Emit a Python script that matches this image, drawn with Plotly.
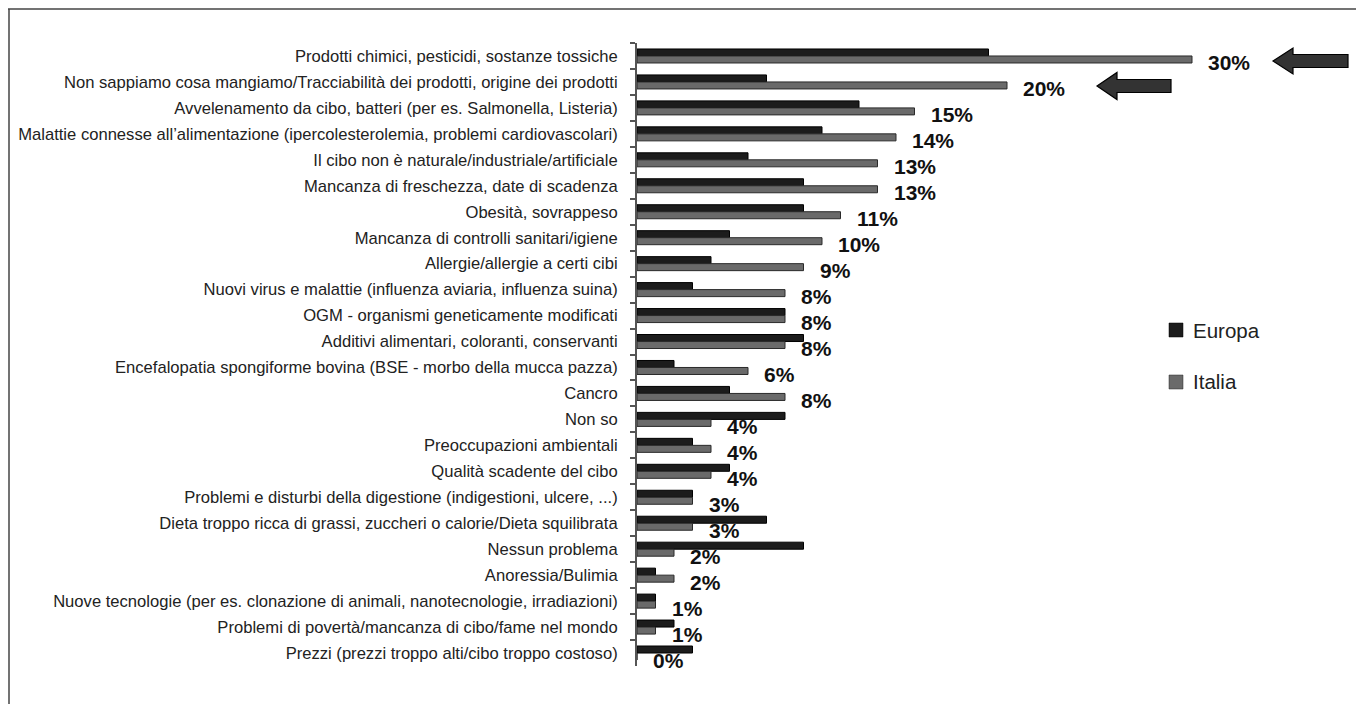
import plotly.graph_objects as go

# Survey answers (top to bottom) and shares in percent
categories = [
    "Prodotti chimici, pesticidi, sostanze tossiche",
    "Non sappiamo cosa mangiamo/Tracciabilità dei prodotti, origine dei prodotti",
    "Avvelenamento da cibo, batteri (per es. Salmonella, Listeria)",
    "Malattie connesse all’alimentazione (ipercolesterolemia, problemi cardiovascolari)",
    "Il cibo non è naturale/industriale/artificiale",
    "Mancanza di freschezza, date di scadenza",
    "Obesità, sovrappeso",
    "Mancanza di controlli sanitari/igiene",
    "Allergie/allergie a certi cibi",
    "Nuovi virus e malattie (influenza aviaria, influenza suina)",
    "OGM - organismi geneticamente modificati",
    "Additivi alimentari, coloranti, conservanti",
    "Encefalopatia spongiforme bovina (BSE - morbo della mucca pazza)",
    "Cancro",
    "Non so",
    "Preoccupazioni ambientali",
    "Qualità scadente del cibo",
    "Problemi e disturbi della digestione (indigestioni, ulcere, ...)",
    "Dieta troppo ricca di grassi, zuccheri o calorie/Dieta squilibrata",
    "Nessun problema",
    "Anoressia/Bulimia",
    "Nuove tecnologie (per es. clonazione di animali, nanotecnologie, irradiazioni)",
    "Problemi di povertà/mancanza di cibo/fame nel mondo",
    "Prezzi (prezzi troppo alti/cibo troppo costoso)",
]
europa = [19, 7, 12, 10, 6, 9, 9, 5, 4, 3, 8, 9, 2, 5, 8, 3, 5, 3, 7, 9, 1, 1, 2, 3]
italia = [30, 20, 15, 14, 13, 13, 11, 10, 9, 8, 8, 8, 6, 8, 4, 4, 4, 3, 3, 2, 2, 1, 1, 0]
series_names = ["Europa", "Italia"]
series_colors = ["#1c1c1c", "#6a6a6a"]
series_edges = ["#000000", "#2a2a2a"]

# Page geometry (pixels) used to place decorations outside the axes
FIG_W, FIG_H = 1356, 704
M_L, M_R, M_T, M_B = 637, 5, 43, 38
PLOT_W = FIG_W - M_L - M_R
PLOT_H = FIG_H - M_T - M_B

SANS = "Liberation Sans, Arial, sans-serif"


def px_x(p):
    return (p - M_L) / PLOT_W


def px_y(p):
    return 1 - (p - M_T) / PLOT_H


fig = go.Figure()
for name, vals, col, edge in zip(series_names, [europa, italia], series_colors, series_edges):
    fig.add_trace(go.Bar(
        y=categories, x=vals, name=name, orientation="h",
        marker=dict(color=col, line=dict(color=edge, width=1)),
        showlegend=False, hoverinfo="x+y",
    ))

# Percentage labels for the Italia series
for cat, v in zip(categories, italia):
    fig.add_annotation(
        x=v, y=cat, xref="x", yref="y", text=f"{v}%", showarrow=False,
        xanchor="left", yanchor="middle", xshift=14, yshift=-7,
        font=dict(family=SANS, size=21, color="#111", weight="bold"),
    )

shapes = []


def left_arrow(tip_x, tail_x, cy, shaft_h, head_h, head_len):
    x0, x1, xh = px_x(tip_x), px_x(tail_x), px_x(tip_x + head_len)
    ys = [px_y(cy - head_h / 2), px_y(cy - shaft_h / 2), px_y(cy), px_y(cy + shaft_h / 2), px_y(cy + head_h / 2)]
    path = (f"M {x0} {ys[2]} L {xh} {ys[0]} L {xh} {ys[1]} L {x1} {ys[1]} "
            f"L {x1} {ys[3]} L {xh} {ys[3]} L {xh} {ys[4]} Z")
    return dict(type="path", path=path, xref="paper", yref="paper",
                fillcolor="#333333", line=dict(color="#000", width=1.2))


shapes.append(left_arrow(1273, 1348, 61, 13, 26, 20))
shapes.append(left_arrow(1097, 1171, 86, 13, 27, 20))

# Frame around the chart (top and left edges)
shapes.append(dict(type="line", xref="paper", yref="paper",
                   x0=px_x(8), x1=px_x(1356), y0=px_y(9), y1=px_y(9),
                   line=dict(color="#444", width=1.5)))
shapes.append(dict(type="line", xref="paper", yref="paper",
                   x0=px_x(9), x1=px_x(9), y0=px_y(9), y1=px_y(704),
                   line=dict(color="#444", width=1.5)))

# Hand-placed legend
legend_rows = [330, 382]
for name, col, edge, cy in zip(series_names, series_colors, series_edges, legend_rows):
    shapes.append(dict(type="rect", xref="paper", yref="paper",
                       x0=px_x(1169), x1=px_x(1183), y0=px_y(cy - 7), y1=px_y(cy + 7),
                       fillcolor=col, line=dict(color=edge, width=0.5)))
    fig.add_annotation(
        x=px_x(1191), y=px_y(cy), xref="paper", yref="paper", text=name, showarrow=False,
        xanchor="left", yanchor="middle",
        font=dict(family=SANS, size=20.5, color="#222"),
    )

fig.update_layout(
    width=FIG_W, height=FIG_H,
    margin=dict(l=M_L, r=M_R, t=M_T, b=M_B, autoexpand=False),
    paper_bgcolor="white", plot_bgcolor="white",
    barmode="group", bargap=0.46, bargroupgap=0.0,
    shapes=shapes,
    xaxis=dict(range=[0, PLOT_W / 18.5], visible=False, fixedrange=True),
    yaxis=dict(
        type="category", range=[len(categories) - 0.5, -0.5],
        showline=True, linecolor="#555", linewidth=2,
        ticks="outside", ticklen=5, tickcolor="#555", tickwidth=2,
        tickson="boundaries", showgrid=False,
        ticklabelstandoff=14,
        tickfont=dict(family=SANS, size=16.6, color="#222"),
    ),
)

fig.write_html("out.html")
